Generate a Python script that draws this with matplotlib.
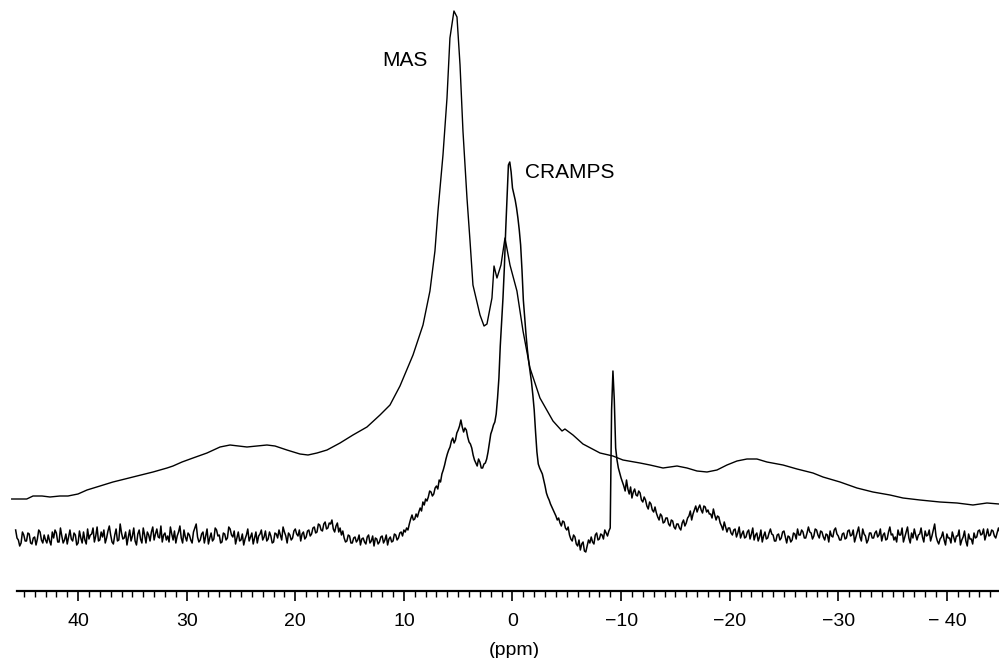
import matplotlib
matplotlib.use("Agg")
import matplotlib.pyplot as plt
from matplotlib.ticker import FixedLocator
import numpy as np

plt.rcParams['font.family'] = ['Liberation Sans', 'DejaVu Sans']

# MAS spectrum (smooth), ppm positions and intensity
mas_ppm = [46.11, 44.73, 44.15, 43.32, 42.59, 41.67, 40.93, 40.01, 39.18, 37.98,
           36.79, 35.68, 34.58, 33.10, 31.81, 31.26, 30.43, 29.42, 28.13, 26.93,
           26.01, 24.45, 23.53, 22.61, 21.87, 20.77, 19.57, 18.83, 18.00, 17.08,
           15.88, 14.69, 13.40, 12.20, 11.28, 10.36, 9.16, 8.24, 7.60, 7.14,
           6.86, 6.40, 6.03, 5.76, 5.39, 5.11, 4.83, 4.56, 4.19, 3.91,
           3.64, 2.99, 2.62, 2.35, 1.89, 1.70, 1.43, 1.06, 0.69, 0.23,
           -0.41, -0.97, -1.61, -2.53, -3.73, -4.56, -4.83, -5.57, -6.49, -8.06,
           -9.25, -10.17, -11.74, -12.66, -13.86, -15.15, -16.07, -16.99, -17.91, -18.83,
           -19.75, -20.67, -21.59, -22.51, -23.43, -24.91, -26.20, -27.67, -28.59, -30.16,
           -31.72, -33.19, -34.76, -35.96, -37.52, -39.36, -40.93, -42.40, -43.69, -44.80]
mas_int = [91, 91, 94, 94, 93, 94, 94, 96, 100, 104,
           108, 111, 114, 118, 122, 124, 128, 132, 137, 143,
           145, 143, 144, 145, 144, 140, 136, 135, 137, 140,
           147, 155, 163, 175, 185, 204, 235, 265, 299, 339,
           379, 435, 492, 552, 579, 573, 525, 459, 392, 349,
           305, 275, 264, 266, 292, 324, 312, 325, 352, 325,
           299, 259, 222, 192, 169, 159, 161, 155, 146, 137,
           134, 130, 127, 125, 122, 124, 122, 119, 118, 120,
           125, 129, 131, 131, 128, 125, 121, 117, 113, 108,
           102, 98, 95, 92, 90, 88, 87, 85, 87, 86]

# CRAMPS spectrum (noisy): one row = 1 ppm, 8 samples per row, starting at 45.75 ppm
cramps_int = [
    60, 52, 50, 44, 47, 58, 55, 49,
    49, 57, 56, 47, 46, 52, 53, 45,
    51, 60, 58, 50, 47, 55, 50, 47,
    55, 49, 45, 58, 52, 60, 57, 48,
    48, 62, 54, 47, 50, 56, 46, 53,
    60, 51, 49, 57, 55, 45, 47, 59,
    52, 47, 58, 50, 46, 61, 51, 55,
    56, 62, 48, 54, 63, 49, 50, 58,
    53, 60, 47, 52, 59, 64, 55, 48,
    46, 55, 61, 49, 50, 66, 57, 51,
    52, 58, 45, 53, 60, 49, 54, 62,
    49, 45, 56, 60, 51, 47, 62, 55,
    47, 58, 55, 49, 58, 63, 50, 56,
    61, 53, 52, 64, 48, 55, 57, 50,
    54, 48, 63, 56, 50, 59, 47, 54,
    58, 64, 52, 47, 60, 53, 49, 57,
    55, 50, 47, 58, 62, 66, 53, 48,
    50, 56, 58, 47, 54, 61, 46, 52,
    57, 49, 51, 62, 60, 54, 55, 47,
    48, 57, 56, 50, 52, 63, 61, 55,
    53, 59, 46, 52, 58, 49, 50, 56,
    45, 51, 55, 61, 49, 53, 57, 46,
    52, 58, 47, 54, 56, 60, 50, 53,
    59, 49, 51, 58, 54, 47, 48, 57,
    56, 52, 60, 55, 50, 63, 58, 54,
    47, 57, 55, 50, 52, 59, 61, 56,
    54, 60, 49, 56, 58, 51, 53, 59,
    60, 54, 56, 62, 63, 57, 58, 66,
    65, 60, 59, 66, 68, 61, 62, 67,
    66, 70, 61, 58, 64, 67, 58, 62,
    55, 59, 52, 48, 49, 55, 54, 47,
    47, 52, 53, 48, 50, 55, 45, 51,
    52, 48, 46, 53, 55, 47, 49, 54,
    44, 52, 51, 46, 48, 53, 54, 47,
    50, 55, 45, 51, 53, 48, 49, 56,
    55, 50, 52, 57, 58, 54, 60, 58,
    62, 60, 66, 71, 75, 70, 71, 76,
    73, 78, 82, 79, 88, 85, 91, 89,
    93, 99, 98, 94, 96, 102, 104, 101,
    110, 108, 116, 120, 125, 131, 136, 140,
    143, 149, 152, 147, 150, 157, 160, 164,
    170, 163, 158, 162, 160, 153, 148, 146,
    142, 135, 130, 127, 124, 131, 128, 122,
    122, 126, 127, 131, 138, 147, 156, 160,
    165, 168, 176, 192, 212, 244, 268, 292,
    322, 360, 392, 425, 428, 418, 402, 396,
    390, 382, 372, 360, 345, 320, 290, 272,
    255, 240, 228, 218, 208, 195, 180, 158,
    138, 126, 122, 119, 116, 110, 104, 97,
    93, 90, 86, 83, 80, 77, 74, 70,
    72, 67, 64, 69, 68, 62, 60, 63,
    55, 51, 49, 55, 53, 46, 44, 50,
    40, 46, 48, 39, 38, 44, 50, 47,
    53, 48, 46, 55, 57, 50, 51, 56,
    55, 51, 60, 57, 54, 59, 62, 180,
    219, 190, 142, 130, 122, 117, 112, 108,
    104, 99, 110, 101, 96, 103, 92, 98,
    101, 95, 94, 99, 97, 90, 88, 93,
    90, 84, 81, 88, 86, 80, 78, 83,
    77, 73, 70, 76, 74, 67, 68, 72,
    72, 66, 64, 70, 69, 63, 61, 66,
    66, 62, 60, 67, 70, 64, 67, 72,
    74, 79, 70, 76, 80, 84, 78, 82,
    85, 80, 77, 84, 83, 78, 80, 76,
    76, 72, 81, 75, 70, 74, 73, 67,
    64, 60, 68, 63, 58, 62, 62, 57,
    55, 60, 61, 53, 57, 63, 52, 56,
    59, 52, 53, 58, 60, 51, 56, 62,
    50, 55, 57, 49, 53, 60, 48, 54,
    58, 51, 52, 57, 61, 56, 55, 49,
    49, 55, 56, 50, 52, 58, 59, 53,
    47, 54, 53, 48, 50, 57, 56, 51,
    61, 55, 55, 60, 58, 52, 52, 57,
    63, 58, 57, 51, 54, 61, 60, 55,
    52, 59, 58, 53, 50, 56, 55, 48,
    59, 54, 53, 60, 62, 56, 54, 50,
    50, 56, 57, 51, 52, 59, 60, 54,
    55, 60, 48, 53, 58, 63, 53, 49,
    61, 56, 54, 47, 50, 57, 57, 52,
    52, 57, 59, 53, 55, 61, 49, 55,
    57, 50, 51, 58, 63, 55, 56, 50,
    53, 48, 60, 55, 55, 62, 48, 53,
    58, 63, 52, 47, 57, 52, 61, 55,
    50, 55, 56, 62, 53, 48, 59, 54,
    55, 60, 49, 54, 60, 66, 54, 49,
    46, 51, 53, 58, 50, 45, 56, 52,
    52, 47, 58, 53, 48, 54, 54, 60,
    45, 50, 53, 59, 49, 44, 56, 51,
    51, 46, 57, 52, 53, 59, 60, 55,
    56, 61, 50, 55, 61, 54, 55, 60,
    59, 54, 52, 57, 62, 58, 57, 52]
cramps_ppm = 45.75 - 0.125 * np.arange(len(cramps_int))

major_ticks = [40, 30, 20, 10, 0, -10, -20, -30, -40]
tick_labels = ['40', '30', '20', '10', '0', '\u221210', '\u221220', '\u221230', '\u2212 40']

fig = plt.figure(figsize=(9.99, 6.58), dpi=100)
# axes placed in pixels: x from 10 to 999, spine at y=591
ax = fig.add_axes([10 / 999, 67 / 658, 989 / 999, 591 / 658])

ax.plot(mas_ppm, mas_int, color='black', lw=1.0)
ax.plot(cramps_ppm, cramps_int, color='black', lw=1.1)

ax.set_xlim(46.27, -44.80)
ax.set_ylim(-1, 590)

# only the bottom axis is drawn
for s in ['top', 'left', 'right']:
    ax.spines[s].set_visible(False)
ax.spines['bottom'].set_linewidth(1.6)
ax.spines['bottom'].set_bounds(45.63, -44.80)
ax.set_yticks([])

ax.xaxis.set_major_locator(FixedLocator(major_ticks))
ax.xaxis.set_minor_locator(FixedLocator(np.arange(-44, 46)))
ax.set_xticklabels(tick_labels)
ax.tick_params(axis='x', which='major', direction='out', length=7, width=1.2,
               labelsize=14, pad=9)
ax.tick_params(axis='x', which='minor', direction='out', length=4.3, width=1.0)
ax.set_xlabel('(ppm)', fontsize=14)
ax.xaxis.set_label_coords(0.5096, -0.087)

ax.text(9.9, 530, 'MAS', fontsize=15, ha='center', va='center')
ax.text(-5.3, 418, 'CRAMPS', fontsize=15, ha='center', va='center')

fig.savefig('out.png', dpi=100)
